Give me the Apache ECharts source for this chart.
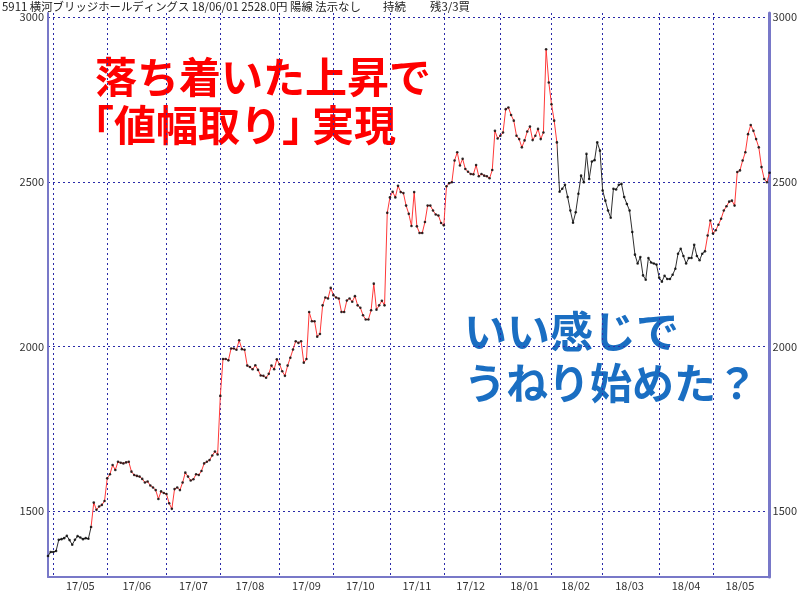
<!DOCTYPE html>
<html>
<head>
<meta charset="utf-8">
<script src="https://cdn.jsdelivr.net/npm/echarts@6/dist/echarts.min.js"></script>
<style>
  html, body { margin: 0; padding: 0; background: #fff; }
  #chart { width: 800px; height: 591px; }
</style>
</head>
<body>
<div id="chart"></div>
<script>
// 日足終値（月ごと）
const apr17 = [1364, 1376]
const may17 = [1376, 1379, 1413, 1415, 1418, 1425, 1412, 1398, 1413, 1424, 1420, 1415, 1418, 1416, 1452, 1526, 1504, 1514, 1519, 1531]
const jun17 = [1600, 1612, 1640, 1625, 1650, 1647, 1645, 1648, 1650, 1620, 1610, 1607, 1605, 1598, 1587, 1590, 1578, 1572, 1564, 1537, 1560, 1555]
const jul17 = [1552, 1524, 1507, 1567, 1572, 1564, 1587, 1617, 1605, 1593, 1597, 1612, 1610, 1622, 1645, 1650, 1655, 1669, 1681, 1672]
const aug17 = [1850, 1962, 1962, 1958, 1994, 1994, 1990, 2019, 1992, 1990, 1942, 1938, 1931, 1943, 1929, 1912, 1911, 1905, 1917, 1942, 1931, 1961]
const sep17 = [1946, 1925, 1911, 1942, 1966, 1991, 2016, 2011, 2016, 1951, 1962, 2105, 2077, 2077, 2030, 2038, 2125, 2149, 2146, 2178]
const oct17 = [2156, 2149, 2146, 2105, 2105, 2140, 2146, 2136, 2153, 2125, 2118, 2095, 2082, 2082, 2110, 2191, 2112, 2125, 2139, 2125, 2406]
const nov17 = [2453, 2470, 2453, 2488, 2469, 2466, 2428, 2403, 2366, 2469, 2365, 2345, 2345, 2378, 2428, 2428, 2413, 2401, 2398, 2375]
const dec17 = [2368, 2487, 2496, 2499, 2565, 2590, 2550, 2570, 2539, 2531, 2524, 2523, 2551, 2517, 2524, 2519, 2517, 2511, 2536, 2655, 2632]
const jan18 = [2640, 2650, 2721, 2726, 2703, 2686, 2640, 2630, 2605, 2626, 2653, 2668, 2627, 2640, 2661, 2630, 2650, 2903, 2802]
const feb18 = [2736, 2686, 2620, 2470, 2479, 2491, 2454, 2413, 2376, 2408, 2464, 2519, 2499, 2585, 2509, 2562, 2566, 2620, 2595]
const mar18 = [2474, 2443, 2413, 2391, 2479, 2477, 2491, 2494, 2454, 2433, 2413, 2348, 2279, 2252, 2272, 2216, 2203, 2269, 2255, 2252, 2249]
const apr18 = [2209, 2197, 2215, 2205, 2205, 2218, 2236, 2282, 2297, 2275, 2252, 2269, 2269, 2309, 2275, 2262, 2282, 2289, 2337, 2383]
const may18 = [2343, 2353, 2370, 2388, 2413, 2426, 2440, 2443, 2428, 2530, 2535, 2565, 2590, 2645, 2673, 2655, 2630, 2605, 2545, 2509, 2499]
const jun18 = [2528]

const months = [apr17, may17, jun17, jul17, aug17, sep17, oct17, nov17, dec17, jan18, feb18, mar18, apr18, may18, jun18]
const monthLabels = ['', '17/05', '17/06', '17/07', '17/08', '17/09', '17/10', '17/11', '17/12', '18/01', '18/02', '18/03', '18/04', '18/05', '']

// 上昇トレンド区間（日インデックス）
const upRanges = [[16, 189], [244, 268]]

const yTicks = [1500, 2000, 2500, 3000]

const upColor = '#ff3838'
const downColor = '#2e2e2e'
const gridColor = '#2a2aa8'
const axisColor = '#7878c8'

// 月の境界とラベル位置
const closes = []
const monthStarts = []
const labelAt = {}
months.forEach((m, i) => {
  monthStarts.push(closes.length)
  if (monthLabels[i]) labelAt[closes.length + Math.floor(m.length / 2)] = monthLabels[i]
  m.forEach(v => closes.push(v))
})
monthStarts.push(closes.length - 1)
const categories = closes.map((_, i) => String(i))

const pieces = []
let prev = 0
upRanges.forEach(([a, b]) => {
  if (a > prev) pieces.push({ gte: prev, lt: a, color: downColor })
  pieces.push({ gte: a, lte: b, color: upColor })
  prev = b + 0.0001
})
if (prev < closes.length - 1) pieces.push({ gte: prev, lte: closes.length - 1, color: downColor })

const font = '"Noto Sans CJK JP", "DejaVu Sans", sans-serif'

const chart = echarts.init(document.getElementById('chart'))

const option = {
  animation: false,
  backgroundColor: '#fff',
  grid: { left: 48, right: 30, top: 13, bottom: 12 },
  xAxis: {
    type: 'category',
    data: categories,
    boundaryGap: false,
    axisLine: { lineStyle: { color: axisColor, width: 2 } },
    axisTick: { show: false },
    axisLabel: {
      interval: (idx) => labelAt[idx] !== undefined,
      formatter: (val, idx) => labelAt[idx] || '',
      hideOverlap: false,
      color: '#333',
      fontSize: 11,
      margin: 3,
      fontFamily: font
    },
    splitLine: {
      show: true,
      interval: (idx) => monthStarts.indexOf(idx) > 0,
      lineStyle: { color: gridColor, type: [2, 3], width: 1 }
    }
  },
  yAxis: [
    {
      type: 'value',
      position: 'left',
      min: 1300,
      max: 3013,
      axisLine: { show: true, lineStyle: { color: axisColor, width: 2 } },
      axisTick: { show: false, customValues: yTicks },
      axisLabel: { customValues: yTicks, formatter: v => String(v), color: '#333', fontSize: 11, margin: 4, fontFamily: font },
      splitLine: { show: true, lineStyle: { color: gridColor, type: [2, 3], width: 1 } }
    },
    {
      type: 'value',
      position: 'right',
      min: 1300,
      max: 3013,
      axisLine: { show: true, lineStyle: { color: axisColor, width: 3 } },
      axisTick: { show: false, customValues: yTicks },
      axisLabel: { customValues: yTicks, formatter: v => String(v), color: '#333', fontSize: 11, margin: 3, fontFamily: font },
      splitLine: { show: false }
    }
  ],
  visualMap: {
    type: 'piecewise',
    show: false,
    dimension: 0,
    seriesIndex: 0,
    pieces: pieces
  },
  graphic: [
    { type: 'text', left: 2, top: 1, style: { text: '5911 横河ブリッジホールディングス 18/06/01 2528.0円 陽線 法示なし', font: '11.4px ' + font, fill: '#222' } },
    { type: 'text', left: 383, top: 1, style: { text: '持続', font: '11.4px ' + font, fill: '#222' } },
    { type: 'text', left: 430, top: 1, style: { text: '残3/3買', font: '11.4px ' + font, fill: '#222' } },
    { type: 'text', left: 95, top: 56, style: { text: '落ち着いた上昇で', font: 'bold 42px ' + font, fill: '#ff0000' } },
    { type: 'text', left: 72, top: 104, style: { text: '「値幅取り」', font: 'bold 42px ' + font, fill: '#ff0000' } },
    { type: 'text', left: 312, top: 104, style: { text: '実現', font: 'bold 42px ' + font, fill: '#ff0000' } },
    { type: 'text', left: 464, top: 310, style: { text: 'いい感じで', font: 'bold 43px ' + font, fill: '#1a6ec2' } },
    { type: 'text', left: 464, top: 362, style: { text: 'うねり始めた？', font: 'bold 42px ' + font, fill: '#1a6ec2' } }
  ],
  series: [
    {
      type: 'line',
      data: closes,
      symbol: 'none',
      lineStyle: { width: 1 },
      z: 2
    },
    {
      type: 'scatter',
      data: closes,
      symbolSize: 2.6,
      itemStyle: { color: '#000' },
      silent: true,
      z: 3
    }
  ]
}

chart.setOption(option)
</script>
</body>
</html>
